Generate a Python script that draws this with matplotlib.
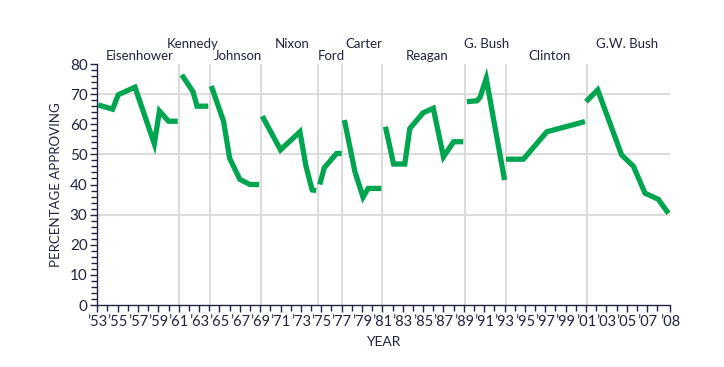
import matplotlib
matplotlib.use("Agg")
import matplotlib.pyplot as plt
from matplotlib.ticker import FixedLocator, MultipleLocator

# ---- data (fractional year, approval %) ----
eisenhower_x = [1953.1, 1954.5, 1955.06, 1956.7, 1958.6, 1959.1, 1960.0, 1960.9]
eisenhower_y = [66.4, 65, 69.8, 72.3, 53.5, 64.4, 61, 61]
kennedy_x = [1961.3, 1962.4, 1962.8, 1963.9]
kennedy_y = [76.4, 70.8, 66, 66]
johnson_x = [1964.2, 1965.4, 1966.0, 1966.6, 1967.0, 1968.0, 1968.9]
johnson_y = [72.7, 61, 48.7, 44.5, 41.7, 40, 40]
nixon_x = [1969.2, 1971.0, 1972.9, 1973.5, 1974.1, 1974.5]
nixon_y = [62.7, 51.5, 57.5, 46, 38.2, 38]
ford_x = [1974.85, 1975.3, 1976.5, 1977.0]
ford_y = [40, 45.6, 50.3, 50.3]
carter_x = [1977.27, 1978.3, 1979.1, 1979.6, 1980.9]
carter_y = [61.4, 44.3, 35.8, 38.7, 38.7]
reagan_x = [1981.3, 1982.1, 1983.2, 1983.7, 1985.0, 1986.0, 1987.0, 1988.0, 1988.95]
reagan_y = [59.2, 46.8, 46.8, 58.6, 63.8, 65.3, 49.2, 54.2, 54.2]
ghbush_x = [1989.3, 1990.3, 1990.6, 1991.2, 1993.0]
ghbush_y = [67.5, 67.8, 69.0, 75.2, 41.5]
clinton_x = [1993.15, 1994.85, 1997.15, 2000.9]
clinton_y = [48.4, 48.4, 57.5, 60.9]
gwbush_x = [2001.0, 2002.15, 2004.5, 2005.65, 2006.8, 2008.1, 2009.1]
gwbush_y = [67.5, 71.4, 49.8, 46.1, 37.1, 35.1, 30.4]

presidents = ["Eisenhower", "Kennedy", "Johnson", "Nixon", "Ford", "Carter",
              "Reagan", "G. Bush", "Clinton", "G.W. Bush"]
series_x = [eisenhower_x, kennedy_x, johnson_x, nixon_x, ford_x, carter_x,
            reagan_x, ghbush_x, clinton_x, gwbush_x]
series_y = [eisenhower_y, kennedy_y, johnson_y, nixon_y, ford_y, carter_y,
            reagan_y, ghbush_y, clinton_y, gwbush_y]
term_starts = [1961, 1964.1, 1969.1, 1974.7, 1977.05, 1981, 1989.15, 1993.1, 2001.05]
label_x = [1957.2, 1962.4, 1966.8, 1972.1, 1976.0, 1979.2, 1985.35, 1991.25, 1997.4, 2005.0]
label_row = [0, 1, 0, 1, 0, 1, 0, 1, 0, 1]

x_tick_labels = ["’53", "’55", "’57", "’59", "’61", "’63", "’65", "’67", "’69", "’71",
                 "’73", "’75", "’77", "’79", "’81", "’83", "’85", "’87", "’89", "’91",
                 "’93", "’95", "’97", "’99", "’01", "’03", "’05", "’07", "’08"]
x_tick_pos = list(range(1953, 2008, 2)) + [2009.25]

plt.rcParams['font.family'] = ['Lato', 'DejaVu Sans']
navy = "#1f2540"
green = "#00a550"
grid = "#d9d9d9"

fig = plt.figure(figsize=(7.24, 3.67), dpi=100)
ax = fig.add_axes([0.1344, 0.1689, 0.9254 - 0.1344, 0.8256 - 0.1689])
ax.set_xlim(1953, 2009.25)
ax.set_ylim(0, 80)

for yv in [30, 50, 70]:
    ax.axhline(yv, color=grid, lw=1.3, zorder=1)
for xv in term_starts:
    ax.axvline(xv, color=grid, lw=1.3, zorder=1)

for xs, ys in zip(series_x, series_y):
    ax.plot(xs, ys, color=green, lw=3.8, solid_joinstyle='miter',
            solid_capstyle='butt', zorder=3)

for name, lx, row in zip(presidents, label_x, label_row):
    yy = 82.6 if row == 0 else 86.6
    ax.text(lx, yy, name, ha='center', va='center', fontsize=9.5, color=navy,
            clip_on=False)

ax.spines['top'].set_visible(False)
ax.spines['right'].set_visible(False)
for s in ['left', 'bottom']:
    ax.spines[s].set_color(navy)
    ax.spines[s].set_linewidth(1.0)

ax.yaxis.set_major_locator(MultipleLocator(10))
ax.yaxis.set_minor_locator(MultipleLocator(2))
ax.xaxis.set_major_locator(FixedLocator(x_tick_pos))
ax.set_xticklabels(x_tick_labels)
ax.xaxis.set_minor_locator(FixedLocator(list(range(1953, 2009))))
ax.tick_params(axis='both', which='major', direction='out', length=5, width=1,
               color=navy, labelcolor=navy, labelsize=11, pad=2)
ax.tick_params(axis='both', which='minor', direction='out', length=4, width=1,
               color=navy)
ax.tick_params(axis='x', which='major', labelsize=10.5)

ax.set_ylabel("PERCENTAGE APPROVING", fontsize=9.5, color=navy, labelpad=6)
ax.set_xlabel("YEAR", fontsize=10, color=navy, labelpad=5)

fig.savefig("out.png", dpi=100)
